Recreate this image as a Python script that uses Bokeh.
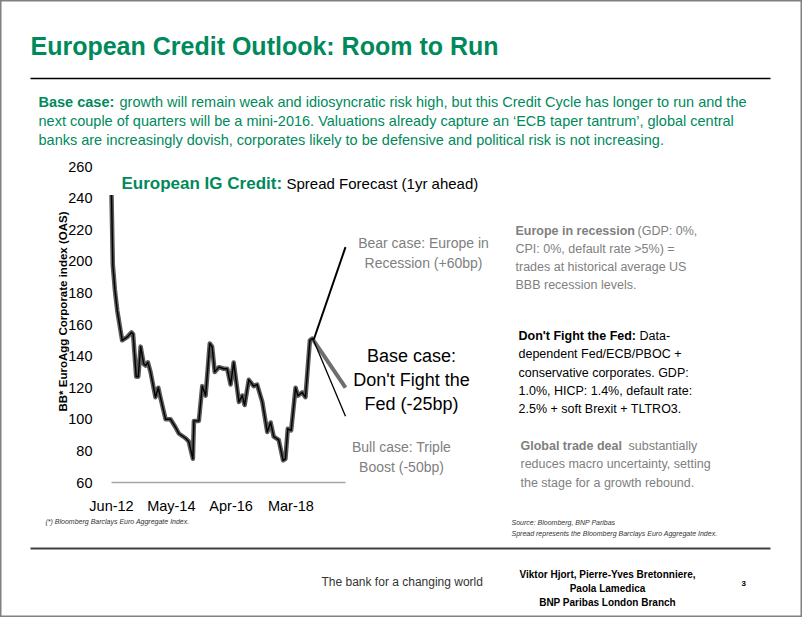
import math
from bokeh.plotting import figure
from bokeh.models import Range1d, FixedTicker, Label, Arrow
from bokeh.embed import file_html
from bokeh.resources import INLINE

# ---------------- data (months since Jun-2012, BB* EuroAgg OAS) ----------------
months = [0, 0.5, 1.3, 2.2, 4.1, 6.0, 7.7, 8.3, 9.5, 10.3, 11.2, 12.4, 13.1, 14.0, 15.0,
          16.9, 18.0, 18.8, 20.8, 22.7, 24.6, 25.9, 28.5, 29.7, 31.3, 31.7, 33.6, 34.9,
          36.2, 37.8, 38.7, 39.7, 41.3, 43.2, 44.5, 45.8, 47.0, 49.0, 50.3, 51.2, 52.8,
          54.7, 56.0, 58.0, 59.9, 61.2, 62.4, 64.3, 66.0, 66.9, 67.8, 69.1, 70.8, 71.7,
          73.3, 74.6, 76.3, 77.2, 77.7]
spread = [242, 198, 182, 169, 150, 152, 155, 154, 127, 127, 146, 135, 134, 136, 130,
          114, 120, 114, 100, 100, 95, 91, 88, 86, 75, 99, 99, 121,
          115, 148, 146, 130, 133, 132, 132, 122, 136, 111, 115, 109, 125,
          121, 122, 111, 92, 98, 89, 87, 74, 75, 94, 93, 120, 115,
          117, 114, 150, 151, 150]

forecast_start = [77.7, 150]
bear_end = [90, 209]
base_end = [90, 120]
bull_end = [90, 102]

tick_months = [0, 23, 46, 69]
tick_labels = ["Jun-12", "May-14", "Apr-16", "Mar-18"]
y_ticks = [60, 80, 100, 120, 140, 160, 180, 200, 220, 240, 260]

GREEN = "#008a5c"
GRAY = "#808080"
FONT = "'Liberation Sans', Arial, sans-serif"

# chart position in reference pixels: month 0 at x=111, 2.6 px / month;
# 60bp at y=482, 1.58 px / bp
PX0, PXM, PY0, PYB = 111.0, 2.6, 482.0, 1.58
W, H = 802, 617


def dx(px):
    return (px - PX0) / PXM


def dy(py):
    return 60 + (PY0 - py) / PYB


p = figure(width=W, height=H,
           x_range=Range1d(dx(0), dx(W)), y_range=Range1d(dy(H), dy(0)),
           output_backend="svg", toolbar_location=None,
           min_border=0, min_border_left=0, min_border_right=0,
           min_border_top=0, min_border_bottom=0)
p.outline_line_color = "#808080"
p.outline_line_width = 2
p.grid.visible = False
p.background_fill_color = "white"
p.border_fill_color = "white"

xa = p.xaxis[0]
xa.fixed_location = 60
xa.bounds = (0, 90)
xa.ticker = FixedTicker(ticks=tick_months)
xa.major_label_overrides = {m: l for m, l in zip(tick_months, tick_labels)}
xa.axis_line_color = "#a6a6a6"
xa.axis_line_width = 1.5
xa.major_tick_line_color = None
xa.minor_tick_line_color = None
xa.major_label_standoff = 9
xa.major_label_text_font = FONT
xa.major_label_text_font_size = "14.5px"
xa.major_label_text_color = "black"

ya = p.yaxis[0]
ya.fixed_location = 0
ya.bounds = (60, 260)
ya.ticker = FixedTicker(ticks=y_ticks)
ya.axis_line_color = None
ya.major_tick_line_color = None
ya.minor_tick_line_color = None
ya.major_label_standoff = 13
ya.major_label_text_font = FONT
ya.major_label_text_font_size = "14.5px"
ya.major_label_text_color = "black"

# history line (gray shadow + black core)
p.line(months, spread, line_color="#5a5a5a", line_width=4.5, line_join="round")
p.line(months, spread, line_color="black", line_width=1.4, line_join="round")

# scenarios
p.line([forecast_start[0], bear_end[0]], [forecast_start[1], bear_end[1]], line_color="black", line_width=2)
p.line([forecast_start[0], base_end[0]], [forecast_start[1], base_end[1]], line_color="#6e6e6e", line_width=4)
p.line([forecast_start[0], bull_end[0]], [forecast_start[1], bull_end[1]], line_color="black", line_width=1.3)


def lab(px, py, text, size, color="black", bold=False, italic=False, align="left",
        angle=0):
    style = "normal"
    if bold and italic:
        style = "bold italic"
    elif bold:
        style = "bold"
    elif italic:
        style = "italic"
    p.add_layout(Label(x=dx(px), y=dy(py), text=text, text_font=FONT,
                       text_font_size=f"{size}px", text_color=color,
                       text_font_style=style, text_align=align,
                       text_baseline="middle", angle=angle))


def rule(x1, x2, py, color, width):
    p.add_layout(Arrow(end=None, x_start=dx(x1), x_end=dx(x2), y_start=dy(py), y_end=dy(py),
                       line_color=color, line_width=width))


# header
lab(30, 45, "European Credit Outlook: Room to Run", 25, GREEN, bold=True)
rule(30, 770, 78, "black", 1.5)
lab(38, 101, "Base case:", 14.5, GREEN, bold=True)
lab(119, 101, "growth will remain weak and idiosyncratic risk high, but this Credit Cycle has longer to run and the", 14.5, GREEN)
lab(38, 120, "next couple of quarters will be a mini-2016. Valuations already capture an \u2018ECB taper tantrum\u2019, global central", 14.5, GREEN)
lab(38, 139, "banks are increasingly dovish, corporates likely to be defensive and political risk is not increasing.", 14.5, GREEN)

# chart subtitle
lab(121, 183, "European IG Credit:", 17, GREEN, bold=True)
lab(286, 183, "Spread Forecast (1yr ahead)", 15, "black")

# y axis title
lab(62, 311, "BB* EuroAgg Corporate index (OAS)", 11.5, "black", bold=True, align="center",
    angle=math.pi / 2)

# scenario labels
lab(423, 242, "Bear case: Europe in", 14, GRAY, align="center")
lab(423, 262, "Recession (+60bp)", 14, GRAY, align="center")
lab(411, 355, "Base case:", 18, "black", align="center")
lab(411, 379, "Don't Fight the", 18, "black", align="center")
lab(411, 403, "Fed (-25bp)", 18, "black", align="center")
lab(401, 446, "Bull case: Triple", 14, GRAY, align="center")
lab(401, 466, "Boost (-50bp)", 14, GRAY, align="center")

# right explanations
lab(515, 230, "Europe in recession", 12.5, GRAY, bold=True)
lab(637, 230, "(GDP: 0%,", 12.5, GRAY)
lab(515, 248, "CPI: 0%, default rate >5%) =", 12.5, GRAY)
lab(515, 266, "trades at historical average US", 12.5, GRAY)
lab(515, 284, "BBB recession levels.", 12.5, GRAY)

lab(518, 335, "Don't Fight the Fed:", 12.5, "black", bold=True)
lab(639, 335, "Data-", 12.5, "black")
lab(518, 353, "dependent Fed/ECB/PBOC +", 12.5, "black")
lab(518, 372, "conservative corporates. GDP:", 12.5, "black")
lab(518, 390, "1.0%, HICP: 1.4%, default rate:", 12.5, "black")
lab(518, 408, "2.5% + soft Brexit + TLTRO3.", 12.5, "black")

lab(520, 445, "Global trade deal", 12.5, GRAY, bold=True)
lab(628, 445, "substantially", 12.5, GRAY)
lab(520, 463, "reduces macro uncertainty, setting", 12.5, GRAY)
lab(520, 482, "the stage for a growth rebound.", 12.5, GRAY)

# footnotes
lab(45, 521, "(*) Bloomberg Barclays Euro Aggregate Index.", 7, "#333333", italic=True)
lab(511, 522, "Source: Bloomberg, BNP Paribas", 7, "#333333", italic=True)
lab(511, 533, "Spread represents the Bloomberg Barclays Euro Aggregate Index.", 7, "#333333", italic=True)

rule(30, 770, 548, "#404040", 2)

lab(321, 581, "The bank for a changing world", 12, "#333333")
lab(607, 574, "Viktor Hjort, Pierre-Yves Bretonniere,", 10, "black", bold=True, align="center")
lab(607, 588, "Paola Lamedica", 10, "black", bold=True, align="center")
lab(607, 602, "BNP Paribas London Branch", 10, "black", bold=True, align="center")
lab(741, 583, "3", 8, "black", bold=True)

open("out.html", "w").write(file_html(p, INLINE))
